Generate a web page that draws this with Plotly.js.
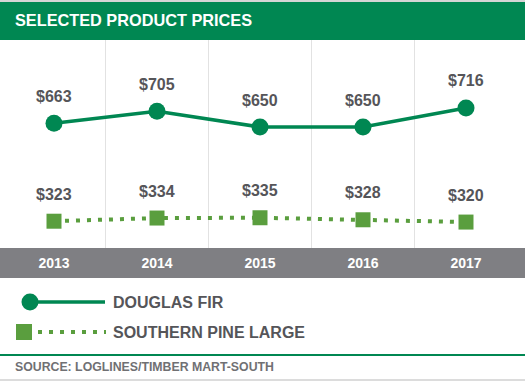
<!DOCTYPE html>
<html>
<head>
<meta charset="utf-8">
<script src="https://cdn.plot.ly/plotly-3.0.1.min.js"></script>
<style>html,body{margin:0;padding:0;background:#fff;}#chart{width:525px;height:384px;}</style>
</head>
<body>
<div id="chart"></div>
<script>
// ---- data ----
const years = ['2013', '2014', '2015', '2016', '2017'];
const douglasFir = [663, 705, 650, 650, 716];
const southernPine = [323, 334, 335, 328, 320];
const seriesNames = ['DOUGLAS FIR', 'SOUTHERN PINE LARGE'];
const chartTitle = 'SELECTED PRODUCT PRICES';
const sourceText = 'SOURCE: LOGLINES/TIMBER MART-SOUTH';

// ---- styling ----
const W = 525, H = 384;
const M = {l: 0, r: 0, t: 40, b: 136};
const plotH = H - M.t - M.b;
const FONT = 'Liberation Sans, Arial, Helvetica, sans-serif';
const GREEN = '#008752';
const PINE = '#5a9e3e';
const GRAY_BAND = '#7f7f83';
const LABEL = '#555559';
const DOTS = '4px,7px';

const px = x => x / W;                       // pixel -> paper x
const py = y => (H - M.b - y) / plotH;       // pixel -> paper y

const idx = years.map((_, i) => i);
const gridVals = idx.slice(1).map(i => i - 0.5);

const traces = [
  {
    x: idx, y: southernPine, name: seriesNames[1], type: 'scatter', mode: 'lines+markers',
    line: {color: PINE, width: 4, dash: DOTS},
    marker: {symbol: 'square', size: 15, color: PINE},
    cliponaxis: false, hoverinfo: 'skip'
  },
  {
    x: idx, y: douglasFir, name: seriesNames[0], type: 'scatter', mode: 'lines+markers',
    line: {color: GREEN, width: 3.5},
    marker: {symbol: 'circle', size: 17, color: GREEN},
    cliponaxis: false, hoverinfo: 'skip'
  }
];

const annotations = [];
[douglasFir, southernPine].forEach(series => {
  series.forEach((v, i) => {
    annotations.push({
      x: i, y: v, xref: 'x', yref: 'y', text: '<b>$' + v + '</b>', showarrow: false,
      yshift: 27, yanchor: 'middle', xanchor: 'center',
      font: {family: FONT, size: 16, color: LABEL}
    });
  });
});
// legend texts
annotations.push({xref: 'paper', yref: 'paper', x: px(111), y: py(302), xanchor: 'left', yanchor: 'middle',
  text: '<b>' + seriesNames[0] + '</b>', showarrow: false, font: {family: FONT, size: 16, color: LABEL}});
annotations.push({xref: 'paper', yref: 'paper', x: px(111), y: py(332), xanchor: 'left', yanchor: 'middle',
  text: '<b>' + seriesNames[1] + '</b>', showarrow: false, font: {family: FONT, size: 16, color: LABEL}});
// source
annotations.push({xref: 'paper', yref: 'paper', x: px(13), y: py(367), xanchor: 'left', yanchor: 'middle',
  text: '<b>' + sourceText + '</b>', showarrow: false, font: {family: FONT, size: 12.3, color: '#707073'}});

const shapes = [
  // top thin line
  {type: 'rect', xref: 'paper', yref: 'paper', x0: 0, x1: 1, y0: py(2), y1: py(0), fillcolor: '#d5d5d5', line: {width: 0}, layer: 'below'},
  // header band
  {type: 'rect', xref: 'paper', yref: 'paper', x0: 0, x1: 1, y0: py(40), y1: py(2), fillcolor: GREEN, line: {width: 0}, layer: 'below'},
  // axis gray band
  {type: 'rect', xref: 'paper', yref: 'paper', x0: 0, x1: 1, y0: py(278), y1: py(248), fillcolor: GRAY_BAND, line: {width: 0}, layer: 'below'},
  // legend: douglas fir
  {type: 'line', xref: 'paper', yref: 'paper', x0: px(30), x1: px(105), y0: py(302), y1: py(302), line: {color: GREEN, width: 3.5}},
  {type: 'circle', xref: 'paper', yref: 'paper', x0: px(21.5), x1: px(38.5), y0: py(310.5), y1: py(293.5), fillcolor: GREEN, line: {width: 0}},
  // legend: southern pine
  {type: 'line', xref: 'paper', yref: 'paper', x0: px(38), x1: px(106), y0: py(332), y1: py(332), line: {color: PINE, width: 4, dash: DOTS}},
  {type: 'rect', xref: 'paper', yref: 'paper', x0: px(16), x1: px(32), y0: py(340), y1: py(324), fillcolor: PINE, line: {width: 0}},
  // source separator lines
  {type: 'line', xref: 'paper', yref: 'paper', x0: 0, x1: 1, y0: py(355), y1: py(355), line: {color: GREEN, width: 2}},
  {type: 'line', xref: 'paper', yref: 'paper', x0: 0, x1: 1, y0: py(380), y1: py(380), line: {color: '#d0d0d0', width: 1.5}}
];

const layout = {
  width: W, height: H,
  margin: M,
  paper_bgcolor: '#ffffff', plot_bgcolor: 'rgba(0,0,0,0)',
  showlegend: false,
  title: {
    text: '<b>' + chartTitle + '</b>', xref: 'container', yref: 'container',
    x: 15 / W, xanchor: 'left', y: 1 - 20 / H, yanchor: 'middle',
    font: {family: FONT, size: 16.3, color: '#ffffff'}
  },
  xaxis: {
    range: [-54 / 103, (W - 54) / 103],
    tickmode: 'array', tickvals: idx, ticktext: years.map(y => '<b>' + y + '</b>'),
    tickfont: {family: FONT, size: 14, color: '#ffffff'},
    showgrid: false, zeroline: false, showline: false, ticks: '',
    ticklabelstandoff: 5,
    minor: {tickmode: 'array', tickvals: gridVals, showgrid: true, gridcolor: '#e2e2e2', gridwidth: 1, ticks: ''},
    fixedrange: true
  },
  yaxis: {
    range: [230, 952], showgrid: false, zeroline: false, showline: false,
    showticklabels: false, ticks: '', fixedrange: true
  },
  shapes: shapes,
  annotations: annotations
};

Plotly.newPlot('chart', traces, layout, {staticPlot: true, displayModeBar: false});
</script>
</body>
</html>
